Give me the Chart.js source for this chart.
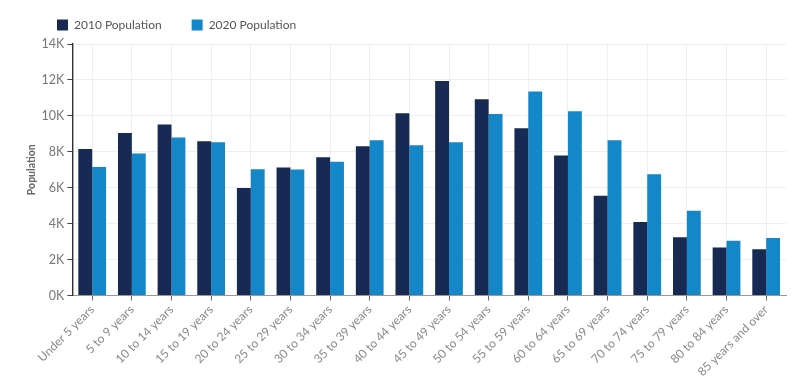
<!DOCTYPE html>
<html>
<head>
<meta charset="utf-8">
<script src="https://cdn.jsdelivr.net/npm/chart.js@4"></script>
<style>
  html, body { margin: 0; padding: 0; background: #fff; }
  #wrap { width: 800px; height: 389px; position: relative; }
</style>
</head>
<body>
<div id="wrap"><canvas id="c" width="800" height="389"></canvas></div>
<script>
const categories = ["Under 5 years","5 to 9 years","10 to 14 years","15 to 19 years","20 to 24 years","25 to 29 years","30 to 34 years","35 to 39 years","40 to 44 years","45 to 49 years","50 to 54 years","55 to 59 years","60 to 64 years","65 to 69 years","70 to 74 years","75 to 79 years","80 to 84 years","85 years and over"];
const pop2010 = [8160, 9050, 9520, 8590, 5990, 7120, 7700, 8310, 10150, 11940, 10930, 9310, 7790, 5560, 4090, 3250, 2680, 2570];
const pop2020 = [7160, 7900, 8790, 8530, 7030, 7010, 7440, 8650, 8370, 8530, 10100, 11360, 10260, 8650, 6750, 4720, 3050, 3200];
const yTicks = [0, 2000, 4000, 6000, 8000, 10000, 12000, 14000];

// keep the legend compact vertically while using wide gaps between items
const legendTweak = {
  id: 'legendTweak',
  beforeLayout(chart) {
    const l = chart.legend;
    if (l && !l._patched) {
      const orig = l.fit;
      l.fit = function () { orig.call(this); this.height = 44; };
      l._patched = true;
    }
  },
  afterLayout(chart) {
    const l = chart.legend;
    if (l) { l.left += 7; l.right += 7; l.top -= 11; l.bottom -= 11; }
  }
};

new Chart(document.getElementById('c'), {
  type: 'bar',
  data: {
    labels: categories,
    datasets: [
      { label: '2010 Population', data: pop2010, backgroundColor: '#172a54', categoryPercentage: 0.7, barPercentage: 1.0 },
      { label: '2020 Population', data: pop2020, backgroundColor: '#1387c7', categoryPercentage: 0.7, barPercentage: 1.0 }
    ]
  },
  plugins: [legendTweak],
  options: {
    responsive: false,
    animation: false,
    layout: { padding: { top: 0, left: 20, right: 14, bottom: 8 } },
    plugins: {
      tooltip: { enabled: false },
      legend: {
        position: 'top',
        align: 'start',
        labels: {
          boxWidth: 11, boxHeight: 11, padding: 30,
          color: '#555',
          font: { family: 'Lato', size: 12 }
        }
      }
    },
    scales: {
      x: {
        offset: true,
        grid: { offset: false, color: '#efefef', tickColor: '#666', tickLength: 5, drawTicks: true },
        border: { color: '#999', width: 1 },
        ticks: {
          minRotation: 45, maxRotation: 45, autoSkip: false,
          color: '#8a8a8a', font: { family: 'Lato', size: 12 }, padding: 2
        }
      },
      y: {
        min: 0, max: 14000,
        afterBuildTicks(axis) { axis.ticks = yTicks.map(v => ({ value: v })); },
        grid: { color: '#efefef', tickColor: '#444', tickLength: 5 },
        border: { color: '#333', width: 1.4 },
        title: { display: true, text: 'Population', color: '#666', font: { family: 'Lato', size: 10.5, weight: 'bold' }, padding: { top: 5, bottom: 1 } },
        ticks: {
          color: '#777', font: { family: 'Lato', size: 12.5 }, padding: 3,
          callback: v => (v / 1000) + 'K'
        }
      }
    }
  }
});
</script>
</body>
</html>
